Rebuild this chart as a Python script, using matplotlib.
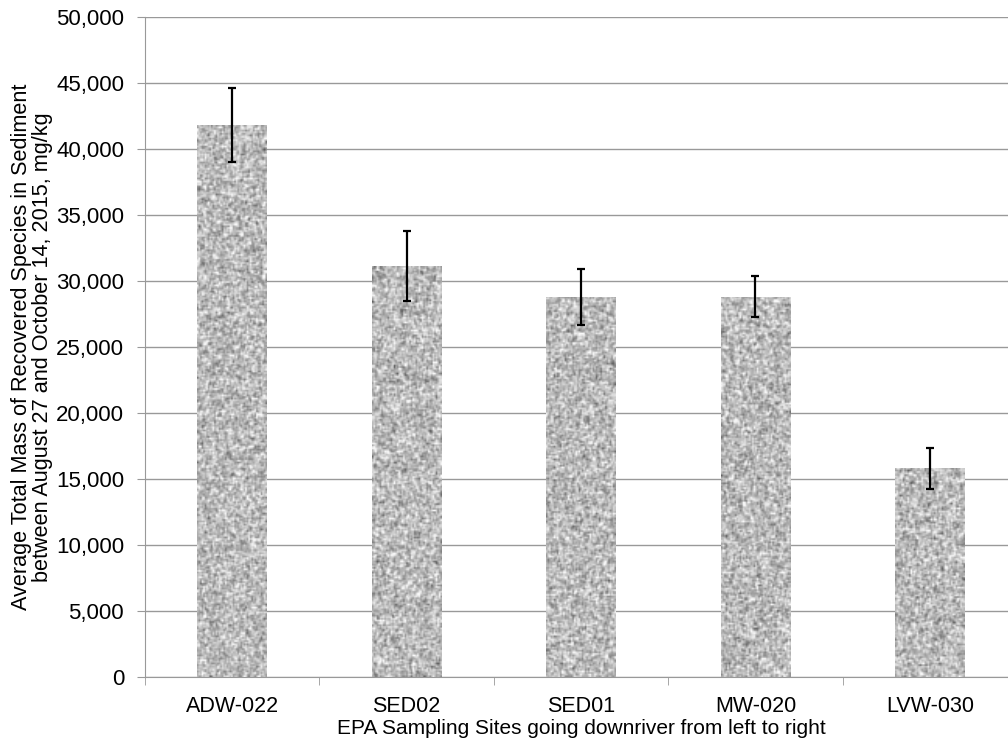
import numpy as np
import matplotlib
matplotlib.use('agg')
import matplotlib.pyplot as plt
from matplotlib.ticker import FuncFormatter, MultipleLocator, FixedLocator

plt.rcParams['font.family'] = ['Liberation Sans', 'DejaVu Sans']

sites = ["ADW-022", "SED02", "SED01", "MW-020", "LVW-030"]
mass = [41800, 31100, 28800, 28800, 15800]
err = [2800, 2650, 2100, 1550, 1550]

fig = plt.figure(figsize=(10.08, 7.46), dpi=100)
ax = fig.add_axes([145 / 1008, 69 / 746, 872 / 1008, 660 / 746])

x = np.arange(len(sites))
bars = ax.bar(x, mass, width=0.4, color='#b4b4b4', zorder=2)
ax.errorbar(x, mass, yerr=err, fmt='none', ecolor='black', elinewidth=1.6,
            capsize=2.8, capthick=1.6, zorder=4)

# granite-like texture clipped to each bar
rng = np.random.default_rng(3)
for b in bars:
    h = int(b.get_height() / 50000 * 660 / 1.6) + 2
    w = 45
    n = rng.normal(0, 1, (h + 2, w + 2))
    k = (n[:-2, 1:-1] + n[2:, 1:-1] + n[1:-1, :-2] + n[1:-1, 2:]) / 4.0
    k = 0.7 * n[1:-1, 1:-1] + 0.8 * k
    img = np.clip(0.73 + 0.13 * k, 0.15, 0.97)
    im = ax.imshow(img, cmap='gray', vmin=0, vmax=1, aspect='auto',
                   extent=(b.get_x(), b.get_x() + b.get_width(), 0, b.get_height()),
                   interpolation='bilinear', zorder=3)
    im.set_clip_path(b)

ax.set_xlim(-0.5, len(sites) - 0.5)
ax.set_ylim(0, 50000)
ax.yaxis.set_major_locator(MultipleLocator(5000))
ax.yaxis.set_major_formatter(FuncFormatter(lambda v, p: f"{int(v):,}"))
ax.set_xticks(x)
ax.set_xticklabels(sites)
ax.xaxis.set_minor_locator(FixedLocator(np.arange(-0.5, len(sites), 1.0)))
ax.tick_params(axis='x', which='major', length=0, labelsize=15.5, pad=14)
ax.tick_params(axis='x', which='minor', length=6, color='#999999', direction='out')
ax.tick_params(axis='y', length=6, color='#999999', labelsize=16, pad=9)

ax.grid(axis='y', color='#999999', linewidth=1.0, zorder=0)
ax.set_axisbelow(True)
for s in ['top', 'right']:
    ax.spines[s].set_visible(False)
ax.spines['left'].set_color('#999999')
ax.spines['bottom'].set_color('#999999')

ax.set_xlabel("EPA Sampling Sites going downriver from left to right", fontsize=15, labelpad=1)
ax.set_ylabel("Average Total Mass of Recovered Species in Sediment\nbetween August 27 and October 14, 2015, mg/kg",
              fontsize=15.6, labelpad=2, linespacing=1.0)

fig.savefig("out.png", dpi=100)
